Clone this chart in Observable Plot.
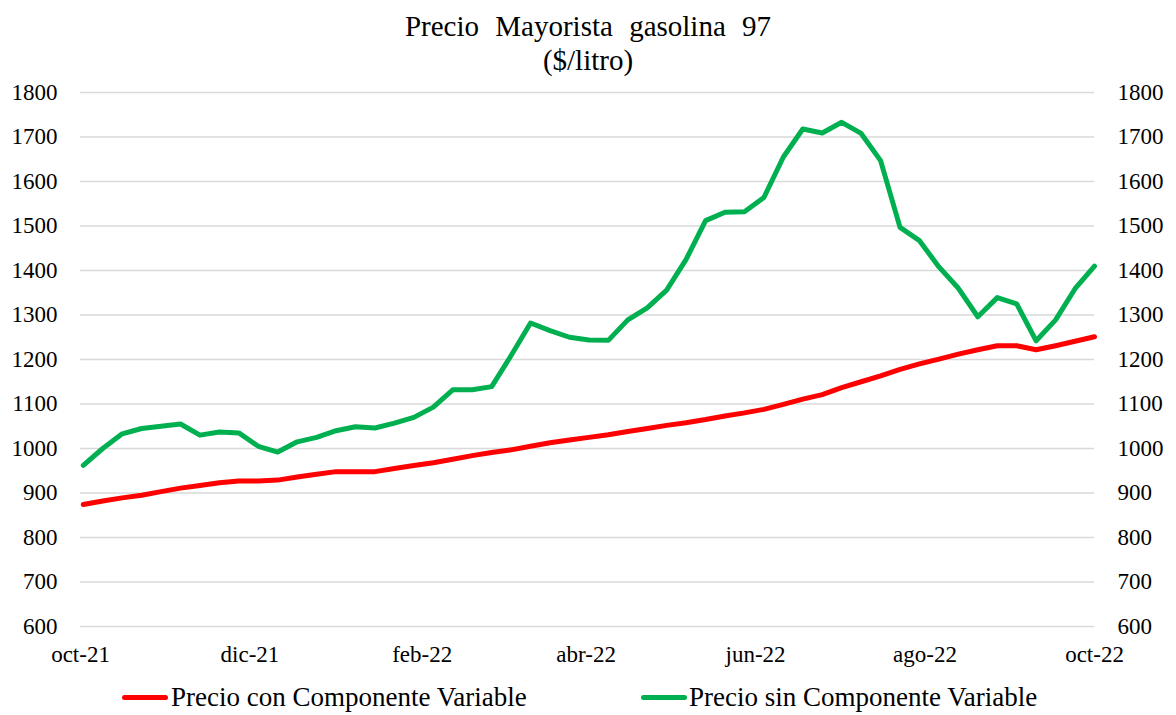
<!DOCTYPE html>
<html>
<head>
<meta charset="utf-8">
<script src="https://cdn.jsdelivr.net/npm/d3@7"></script>
<script src="https://cdn.jsdelivr.net/npm/@observablehq/plot@0.6"></script>
<style>
  body { margin: 0; background: #fff; font-family: "Liberation Serif", "Times New Roman", serif; color: #000; }
  #wrap { position: relative; width: 1176px; height: 715px; overflow: hidden; font-family: "Liberation Serif", serif; }
  #title { position: absolute; top: 9px; left: 0; width: 1176px; text-align: center; font-size: 29px; line-height: 34px; word-spacing: 9px; }
  #chart { position: absolute; top: 80px; left: 0; }
  #chart svg, #chart svg text, #chart svg g { font-family: "Liberation Serif", serif !important; }
  .leg { position: absolute; top: 681px; font-size: 27px; line-height: 32px; white-space: nowrap; font-family: "Liberation Serif", serif !important; }
  .sw { position: absolute; top: 14px; width: 46px; height: 5px; border-radius: 3px; }
</style>
</head>
<body>
<div id="wrap">
  <div id="title">Precio Mayorista gasolina 97<br>($/litro)</div>
  <div id="chart"></div>
  <div class="leg" style="left:122px"><span class="sw" style="left:0;background:#ff0000"></span><span style="margin-left:49px">Precio con Componente Variable</span></div>
  <div class="leg" style="left:641px"><span class="sw" style="left:0;background:#00b050"></span><span style="margin-left:48px">Precio sin Componente Variable</span></div>
</div>
<script>
// Weekly observations, first week of Oct 2021 to first week of Oct 2022
const firstWeek = "2021-10-02";
const seriesNames = ["Precio con Componente Variable", "Precio sin Componente Variable"];
const conComponente = [
  874, 882, 889, 895, 903, 911, 917, 923, 927, 927,
  929, 936, 942, 948, 948, 948, 955, 962, 968, 976,
  984, 991, 997, 1005, 1013, 1019, 1025, 1031, 1038, 1045,
  1052, 1058, 1065, 1073, 1080, 1088, 1099, 1111, 1121, 1137,
  1150, 1163, 1178, 1190, 1201, 1212, 1222, 1231, 1231, 1222,
  1231, 1241, 1251
];
const sinComponente = [
  962, 1000, 1033, 1045, 1050, 1055, 1030, 1037, 1035, 1005,
  992, 1015, 1025, 1040, 1049, 1046, 1057, 1070, 1093, 1132,
  1132, 1139, 1209, 1282, 1265, 1250, 1244, 1243, 1289, 1316,
  1356, 1425, 1512, 1531, 1532, 1564, 1655, 1718, 1709, 1733,
  1708, 1647, 1497, 1467, 1408, 1360, 1296, 1339, 1325, 1242,
  1289, 1359, 1410
];
const xTickDates = ["2021-10-01", "2021-12-01", "2022-02-01", "2022-04-01", "2022-06-01", "2022-08-01", "2022-10-01"];
const xTickLabels = ["oct-21", "dic-21", "feb-22", "abr-22", "jun-22", "ago-22", "oct-22"];
const yTicks = [600, 700, 800, 900, 1000, 1100, 1200, 1300, 1400, 1500, 1600, 1700, 1800];

const t0 = new Date(firstWeek + "T00:00:00Z");
const dates = conComponente.map((_, i) => d3.utcDay.offset(t0, i * 7));
const rows = [];
conComponente.forEach((v, i) => rows.push({date: dates[i], value: v, serie: seriesNames[0]}));
sinComponente.forEach((v, i) => rows.push({date: dates[i], value: v, serie: seriesNames[1]}));

const tickDates = xTickDates.map(s => new Date(s + "T00:00:00Z"));
const labelOf = new Map(tickDates.map((d, i) => [+d, xTickLabels[i]]));
const serif = "'Liberation Serif', serif";

const chart = Plot.plot({
  width: 1176,
  height: 600,
  marginTop: 12,
  marginBottom: 54,
  marginLeft: 80,
  marginRight: 82,
  style: {fontFamily: serif, fontSize: "23px", color: "#000", background: "#fff"},
  x: {type: "utc", domain: [tickDates[0], tickDates[tickDates.length - 1]]},
  y: {domain: [600, 1800]},
  marks: [
    Plot.gridY(yTicks, {stroke: "#d9d9d9", strokeOpacity: 1, strokeWidth: 1.5}),
    Plot.axisY(yTicks, {anchor: "left", tickSize: 0, tickPadding: 23, fontSize: 23, fontFamily: serif, label: null, tickFormat: d => String(d)}),
    Plot.axisY(yTicks, {anchor: "right", tickSize: 0, tickPadding: 23, fontSize: 23, fontFamily: serif, label: null, tickFormat: d => String(d)}),
    Plot.axisX(tickDates, {tickSize: 0, tickPadding: 19, fontSize: 23, fontFamily: serif, label: null, tickFormat: d => labelOf.get(+d)}),
    Plot.lineY(rows.filter(r => r.serie === seriesNames[0]), {x: "date", y: "value", stroke: "#ff0000", strokeWidth: 5, strokeLinejoin: "round", strokeLinecap: "round"}),
    Plot.lineY(rows.filter(r => r.serie === seriesNames[1]), {x: "date", y: "value", stroke: "#00b050", strokeWidth: 5, strokeLinejoin: "round", strokeLinecap: "round"})
  ]
});
document.getElementById("chart").appendChild(chart);
</script>
</body>
</html>
